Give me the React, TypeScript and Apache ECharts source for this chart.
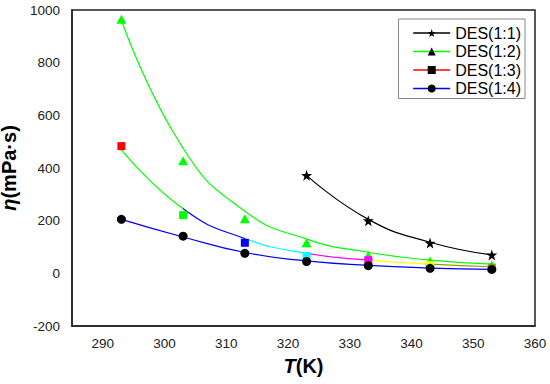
import React, { useEffect, useRef } from 'react';
import * as echarts from 'echarts';

// Temperatures (K)
const temps = [293, 303, 313, 323, 333, 343, 353];
const temps11 = [323, 333, 343, 353];

// Measured viscosities (mPa·s)
const des11 = [372, 200, 115, 70];
const des12 = [965, 428, 207, 116, 68, 47, 32];
const des13 = [483, 221, 116, 66, 50, 31, 22];
const des14 = [205, 141, 76, 45, 29, 19, 15];

// Fitted curves
const trend11 = [372, 205, 118, 70];
const trend12 = [962, 475, 236, 130, 80, 50, 35];
const trend13 = [470, 245, 132, 76, 50, 35, 25];
const trend14 = [205, 138, 79, 47, 30, 20, 15];

// Per-point colours of DES(1:3)
const des13Colors = ['#ff0000', '#00ff00', '#0000ff', '#00ffff', '#ff00ff', '#ffff00', '#999900'];
const des13SegBounds = [285, 303, 313, 323, 333, 343, 360];

const legendNames = ['DES(1:1)', 'DES(1:2)', 'DES(1:3)', 'DES(1:4)'];
const lineColors = ['#000000', '#00ff00', '#ff0000', '#0000ff'];
const STAR = 'path://M12,0 L14.9,8.6 L24,8.7 L16.7,14.1 L19.4,22.8 L12,17.6 L4.6,22.8 L7.3,14.1 L0,8.7 L9.1,8.6 Z';
const SQUARE = 'path://M0,0 L10,0 L10,10 L0,10 Z';
const symbols = [STAR, 'triangle', SQUARE, 'circle'];

const FONT = '"Liberation Sans", Arial, sans-serif';

function pair(xs: number[], ys: number[]) {
  return xs.map((x, i) => [x, ys[i]]);
}

export default function App() {
  const ref = useRef<HTMLDivElement>(null);
  useEffect(() => {
    if (!ref.current) return;
    const chart = echarts.init(ref.current, undefined, { renderer: 'svg' });
    const pieces = des13Colors.slice(1).map((c, i) => ({
      gte: des13SegBounds[i],
      lt: des13SegBounds[i + 1],
      color: c,
    }));
    const trendSeries: any[] = [
      { xs: temps11, ys: trend11 },
      { xs: temps, ys: trend12 },
      { xs: temps, ys: trend13 },
      { xs: temps, ys: trend14 },
    ].map((s, i) => ({
      type: 'line',
      name: 'trend' + i,
      data: pair(s.xs, s.ys),
      smooth: 0.5,
      symbol: 'none',
      lineStyle: i === 2 ? { width: 1.2 } : { color: lineColors[i], width: 1.2 },
      itemStyle: { color: lineColors[i] },
      z: 2,
      silent: true,
    }));
    const scatterSeries: any[] = [
      {
        type: 'scatter', name: 'p11', symbol: STAR, symbolSize: 11,
        data: pair(temps11, des11), itemStyle: { color: '#000', opacity: 1 }, z: 3,
      },
      {
        type: 'scatter', name: 'p12', symbol: 'triangle', symbolSize: [10, 9],
        data: pair(temps, des12), itemStyle: { color: '#00ff00', opacity: 1 }, z: 3,
      },
      {
        type: 'scatter', name: 'p13', symbol: 'rect', symbolSize: 8,
        data: temps.map((t, i) => ({ value: [t, des13[i]], itemStyle: { color: des13Colors[i] } })),
        itemStyle: { opacity: 1 }, z: 3,
      },
      {
        type: 'scatter', name: 'p14', symbol: 'circle', symbolSize: 9,
        data: pair(temps, des14), itemStyle: { color: '#000', opacity: 1 }, z: 4,
      },
    ];
    // Empty series that only feed the legend (black markers, coloured lines)
    const legendSeries: any[] = legendNames.map((n, i) => ({
      type: 'line',
      name: n,
      data: [],
      symbol: symbols[i],
      itemStyle: { color: '#000', borderColor: '#000', borderWidth: 0 },
      lineStyle: { color: lineColors[i], width: 1.4 },
    }));
    chart.setOption({
      animation: false,
      textStyle: { fontFamily: FONT },
      grid: {
        left: 72, right: 15, top: 10, bottom: 58,
        outerBoundsMode: 'none',
        containLabel: false,
        show: true, borderColor: '#222', borderWidth: 1.5, backgroundColor: 'transparent',
      },
      legend: {
        orient: 'vertical',
        right: 25,
        top: 19,
        data: legendNames.map((n, i) => ({
          name: n,
          itemStyle: { color: '#000', borderColor: '#000', borderWidth: 0 },
          lineStyle: { color: lineColors[i], width: 1.4 },
        })),
        itemWidth: 37,
        itemHeight: 10,
        itemGap: 2.5,
        padding: [6, 4, 2, 14],
        borderColor: '#888',
        borderWidth: 1,
        borderRadius: 0,
        backgroundColor: '#fff',
        textStyle: { fontFamily: FONT, fontSize: 16, color: '#000', lineHeight: 16 },
        selectedMode: false,
      },
      visualMap: {
        type: 'piecewise',
        show: false,
        dimension: 0,
        seriesIndex: 2,
        pieces,
      },
      xAxis: {
        type: 'value',
        min: 285,
        max: 360,
        interval: 5,
        name: '{i|T}(K)',
        nameLocation: 'middle',
        nameGap: 30,
        nameTextStyle: {
          fontFamily: FONT, fontSize: 20, fontWeight: 'bold', color: '#000',
          rich: { i: { fontFamily: FONT, fontSize: 20, fontWeight: 'bold', fontStyle: 'italic', color: '#000' } },
        },
        axisLine: { show: true, onZero: false, lineStyle: { color: '#222', width: 1.5 } },
        axisTick: { show: false },
        splitLine: { show: false },
        axisLabel: {
          margin: 10,
          fontFamily: FONT,
          fontSize: 13.5,
          color: '#222',
          showMinLabel: true,
          showMaxLabel: true,
          formatter: (v: number) => (v % 10 === 0 ? String(v) : ''),
        },
      },
      yAxis: {
        type: 'value',
        min: -200,
        max: 1000,
        interval: 200,
        name: '{i|η}(mPa·s)',
        nameLocation: 'middle',
        nameGap: 44,
        nameTextStyle: {
          fontFamily: FONT, fontSize: 20, fontWeight: 'bold', color: '#000',
          rich: { i: { fontFamily: FONT, fontSize: 20, fontWeight: 'bold', fontStyle: 'italic', color: '#000' } },
        },
        axisLine: { show: true, onZero: false, lineStyle: { color: '#222', width: 1.5 } },
        axisTick: { show: false },
        splitLine: { show: false },
        axisLabel: {
          margin: 12, fontFamily: FONT, fontSize: 13.5, color: '#222',
          formatter: (v: number) => String(v),
        },
      },
      series: [...trendSeries, ...scatterSeries, ...legendSeries],
    });
    return () => chart.dispose();
  }, []);
  return <div ref={ref} style={{ width: 550, height: 384, position: 'absolute', left: 0, top: 0, background: '#fff' }} />;
}
